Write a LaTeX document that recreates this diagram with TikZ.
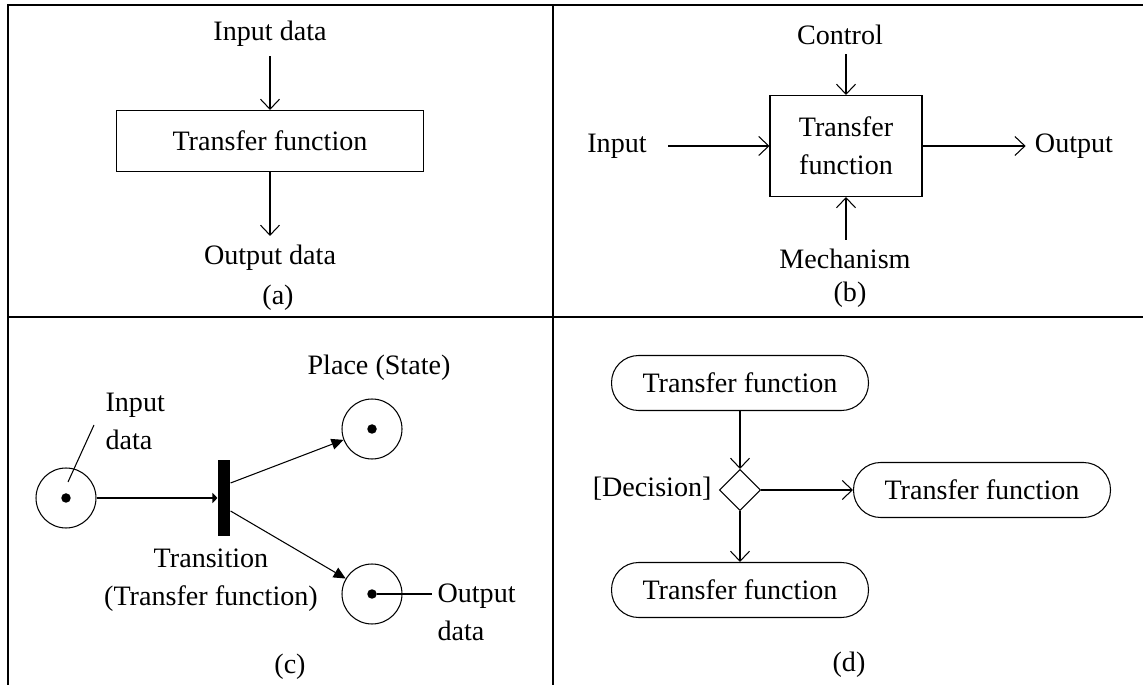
\documentclass[tikz,border=0pt]{standalone}
\usepackage{fontspec}
\setmainfont{Liberation Serif}
\usetikzlibrary{arrows.meta,shapes.geometric,positioning}

\begin{document}
\begin{tikzpicture}[x=0.02cm,y=-0.02cm,line width=0.6pt,
	font=\fontsize{16}{21.6}\selectfont,
	>={Straight Barb[length=0.2cm,width=0.38cm]},
	lbl/.style={inner sep=5pt,align=center},
	tfbox/.style={draw,inner sep=0pt,align=center},
	place/.style={circle,draw,minimum size=1.2cm,inner sep=0pt},
	token/.style={circle,fill,minimum size=0.19cm,inner sep=0pt},
	activity/.style={draw,rounded corners=0.54cm,minimum width=5.14cm,minimum height=1.1cm},
	pn/.style={-{Triangle[length=0.24cm,width=0.22cm]}}]
	\useasboundingbox (0,0) rectangle (1143,685);
	% frame
	\draw[line width=1.1pt] (8,685) -- (8,5) -- (1143,5);
	\draw[line width=1.1pt] (553,5) -- (553,685) (8,317) -- (1143,317);
	% (a)
	\node[lbl] (inA) at (270,34) {Input data};
	\node[tfbox,minimum width=6.14cm,minimum height=1.22cm] (tfA) at (270,141) {Transfer function};
	\node[lbl] (outA) at (270,258) {Output data};
	\node[lbl] (capA) at (278,298) {(a)};
	\draw[->] (inA) -- (tfA);
	\draw[->] (tfA) -- (outA);
	% (b)
	\node[tfbox,minimum width=3.04cm,minimum height=2.02cm] (tfB) at (846,146) {Transfer\\function};
	\node[lbl] (ctrl) at (840,35) {Control};
	\node[lbl] (mech) at (845,259) {Mechanism};
	\node[lbl] (inB) at (617,146) {Input};
	\node[lbl] (outB) at (1074,146) {Output};
	\node[lbl] (capB) at (850,295) {(b)};
	\draw[->] (ctrl.south -| tfB) -- (tfB);
	\draw[->] (mech.north -| tfB) -- (tfB);
	\draw[->,shorten <=7pt] (inB) -- (tfB);
	\draw[->] (tfB) -- (outB);
	% (c)
	\node[place] (pIn) at (66,498) {};
	\node[token] (dIn) at (pIn) {};
	\node[place] (pTop) at (372,429) {};
	\node[token] (dTop) at (pTop) {};
	\node[place] (pOut) at (372,594) {};
	\node[token] (dOut) at (pOut) {};
	\node[fill,minimum width=0.24cm,minimum height=1.52cm,inner sep=0pt] (tr) at (224,498) {};
	\node[anchor=west,inner sep=0pt,align=left] (inC) at (105,421) {Input\\data};
	\node[anchor=west,inner sep=0pt,align=left] (outC) at (437,612) {Output\\data};
	\node[inner sep=0pt,align=center] (trLbl) at (211,580) {Transition\\(Transfer function)};
	\node[lbl] (plLbl) at (379,368) {Place (State)};
	\node[lbl] (capC) at (290,667) {(c)};
	\coordinate (inTag) at (94,425);
	\draw (inTag) -- ([shift={(2,-16)}]dIn.center);
	\draw[-{Triangle[length=0.1cm,width=0.2cm]}] (pIn) -- (tr);
	\draw[pn] ([yshift=0.3cm]tr.east) -- (pTop);
	\draw[pn] ([yshift=-0.26cm]tr.east) -- (pOut);
	\draw[shorten >=0.1cm] (dOut) -- (dOut -| outC.west);
	% (d)
	\node[activity] (tfTop) at (740,383) {Transfer function};
	\node[diamond,draw,minimum size=0.82cm,inner sep=0pt] (dec) at (740,490) {};
	\node[activity] (tfRight) at (982,490) {Transfer function};
	\node[activity] (tfBot) at (740,590) {Transfer function};
	\node[anchor=east,inner sep=0pt] (decLbl) at (712,489) {[Decision]};
	\node[lbl] (capD) at (849,665) {(d)};
	\draw[->] (tfTop) -- (dec);
	\draw[->] (dec) -- (tfRight);
	\draw[->] (dec) -- (tfBot);
\end{tikzpicture}
\end{document}
